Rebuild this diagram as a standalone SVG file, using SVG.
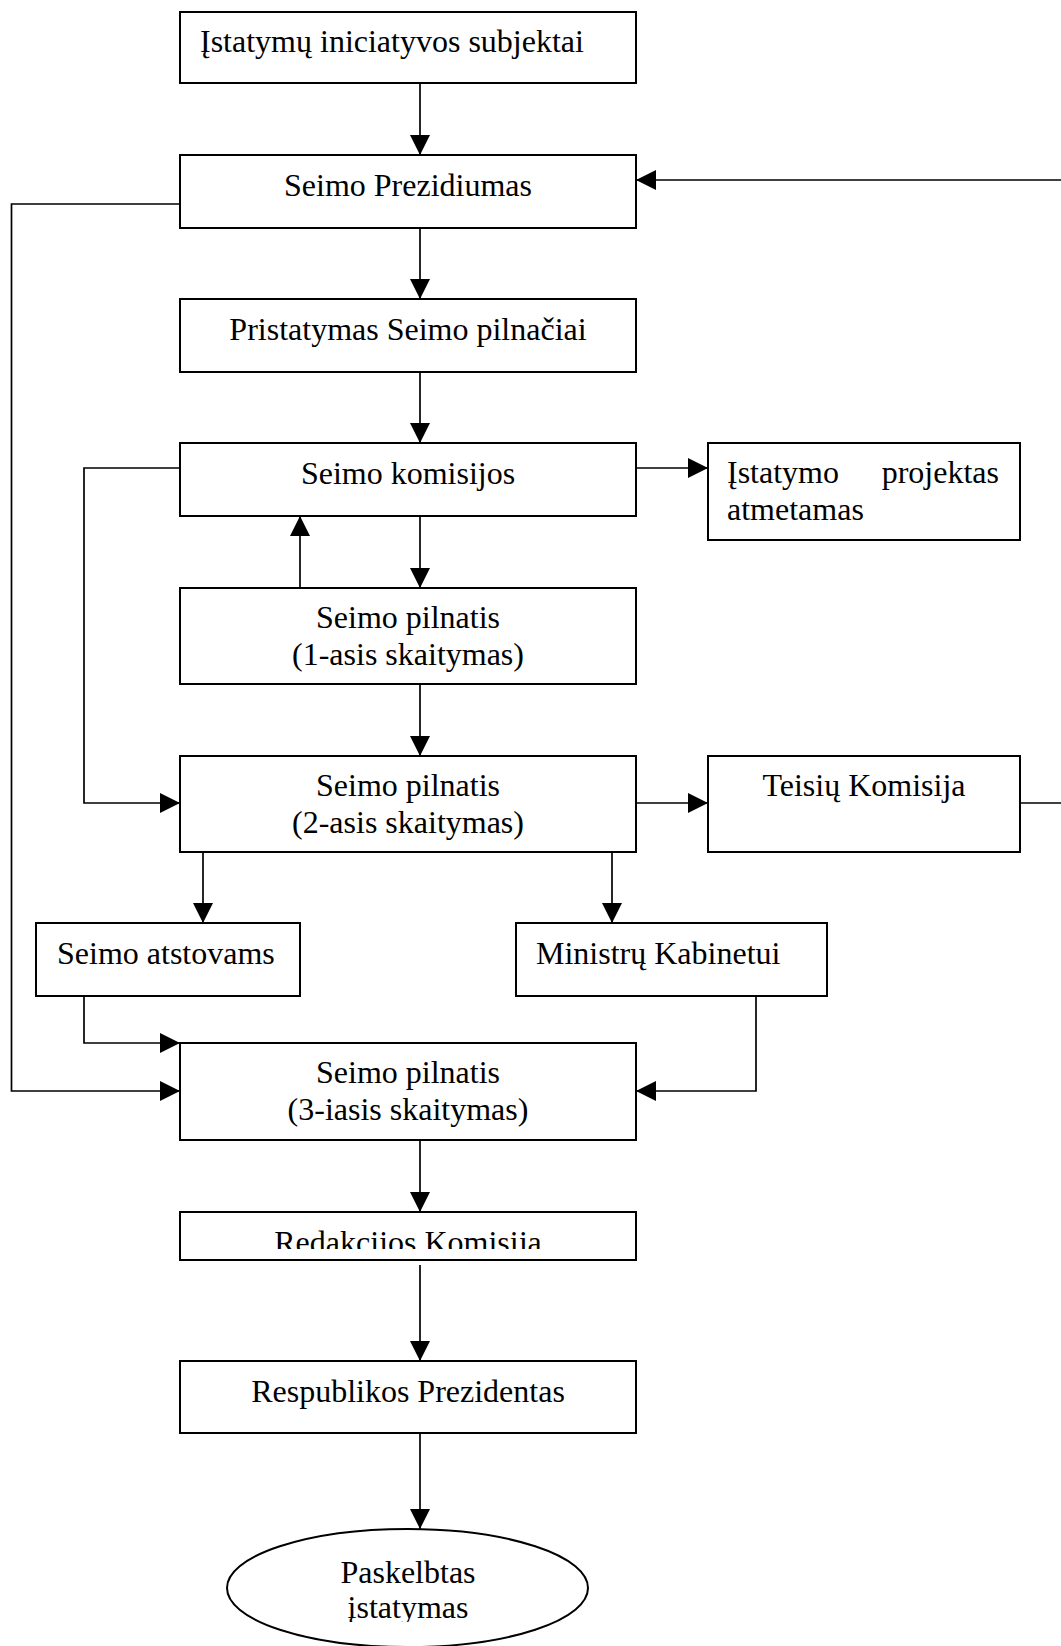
<svg xmlns="http://www.w3.org/2000/svg" width="1061" height="1646" viewBox="0 0 1061 1646">
<style>
.box{fill:#fff;stroke:#000;stroke-width:2}
.t{font-family:"Liberation Serif","Times New Roman",serif;font-size:32px;fill:#000}
.c{text-anchor:middle}
.ln{fill:none;stroke:#000;stroke-width:1.7}
</style>
<defs>
<marker id="ah" viewBox="0 0 20 20" refX="20" refY="10" markerWidth="20" markerHeight="20" markerUnits="userSpaceOnUse" orient="auto">
<path d="M0,0 L20,10 L0,20 Z" fill="#000"/>
</marker>
<clipPath id="clipRed"><rect x="179" y="1212" width="458" height="37"/></clipPath>
<clipPath id="clipEl"><rect x="200" y="1529" width="420" height="93"/></clipPath>
</defs>
<rect width="1061" height="1646" fill="#fff"/>

<g id="connectors">
<line class="ln" x1="420" y1="83" x2="420" y2="155" marker-end="url(#ah)"/>
<line class="ln" x1="1061" y1="180" x2="636" y2="180" marker-end="url(#ah)"/>
<line class="ln" x1="420" y1="228" x2="420" y2="299" marker-end="url(#ah)"/>
<line class="ln" x1="420" y1="372" x2="420" y2="443" marker-end="url(#ah)"/>
<line class="ln" x1="636" y1="468" x2="708" y2="468" marker-end="url(#ah)"/>
<polyline class="ln" points="180,468 84,468 84,803 180,803" marker-end="url(#ah)"/>
<line class="ln" x1="300" y1="588" x2="300" y2="516" marker-end="url(#ah)"/>
<line class="ln" x1="420" y1="516" x2="420" y2="588" marker-end="url(#ah)"/>
<line class="ln" x1="420" y1="684" x2="420" y2="756" marker-end="url(#ah)"/>
<line class="ln" x1="636" y1="803" x2="708" y2="803" marker-end="url(#ah)"/>
<line class="ln" x1="1020" y1="803" x2="1061" y2="803"/>
<line class="ln" x1="203" y1="852" x2="203" y2="923" marker-end="url(#ah)"/>
<line class="ln" x1="612" y1="852" x2="612" y2="923" marker-end="url(#ah)"/>
<polyline class="ln" points="84,996 84,1043 180,1043" marker-end="url(#ah)"/>
<polyline class="ln" points="180,204 11.5,204 11.5,1091 180,1091" marker-end="url(#ah)"/>
<polyline class="ln" points="756,996 756,1091 636,1091" marker-end="url(#ah)"/>
<line class="ln" x1="420" y1="1140" x2="420" y2="1212" marker-end="url(#ah)"/>
<line class="ln" x1="420" y1="1265" x2="420" y2="1361" marker-end="url(#ah)"/>
<line class="ln" x1="420" y1="1433" x2="420" y2="1529" marker-end="url(#ah)"/>
</g>

<g id="n1"><rect class="box" x="180" y="12" width="456" height="71"/><text class="t" x="200" y="52">Įstatymų iniciatyvos subjektai</text></g>
<g id="n2"><rect class="box" x="180" y="155" width="456" height="73"/><text class="t c" x="408" y="196">Seimo Prezidiumas</text></g>
<g id="n3"><rect class="box" x="180" y="299" width="456" height="73"/><text class="t c" x="408" y="340">Pristatymas Seimo pilnačiai</text></g>
<g id="n4"><rect class="box" x="180" y="443" width="456" height="73"/><text class="t c" x="408" y="484">Seimo komisijos</text></g>
<g id="n5"><rect class="box" x="708" y="443" width="312" height="97"/><text class="t" x="727" y="483">Įstatymo</text><text class="t" x="999" y="483" text-anchor="end">projektas</text><text class="t" x="727" y="520">atmetamas</text></g>
<g id="n6"><rect class="box" x="180" y="588" width="456" height="96"/><text class="t c" x="408" y="628">Seimo pilnatis</text><text class="t c" x="408" y="665">(1-asis skaitymas)</text></g>
<g id="n7"><rect class="box" x="180" y="756" width="456" height="96"/><text class="t c" x="408" y="796">Seimo pilnatis</text><text class="t c" x="408" y="833">(2-asis skaitymas)</text></g>
<g id="n8"><rect class="box" x="708" y="756" width="312" height="96"/><text class="t c" x="864" y="796">Teisių Komisija</text></g>
<g id="n9"><rect class="box" x="36" y="923" width="264" height="73"/><text class="t" x="57" y="964">Seimo atstovams</text></g>
<g id="n10"><rect class="box" x="516" y="923" width="311" height="73"/><text class="t" x="536" y="964">Ministrų Kabinetui</text></g>
<g id="n11"><rect class="box" x="180" y="1043" width="456" height="97"/><text class="t c" x="408" y="1083">Seimo pilnatis</text><text class="t c" x="408" y="1120">(3-iasis skaitymas)</text></g>
<g id="n12"><rect class="box" x="180" y="1212" width="456" height="48"/><text class="t c" x="408" y="1253" clip-path="url(#clipRed)">Redakcijos Komisija</text></g>
<g id="n13"><rect class="box" x="180" y="1361" width="456" height="72"/><text class="t c" x="408" y="1402">Respublikos Prezidentas</text></g>
<g id="n14"><ellipse class="box" cx="407.5" cy="1588" rx="180.5" ry="59"/><text class="t c" x="408" y="1583">Paskelbtas</text><text class="t c" x="408" y="1618" clip-path="url(#clipEl)">įstatymas</text></g>
</svg>
